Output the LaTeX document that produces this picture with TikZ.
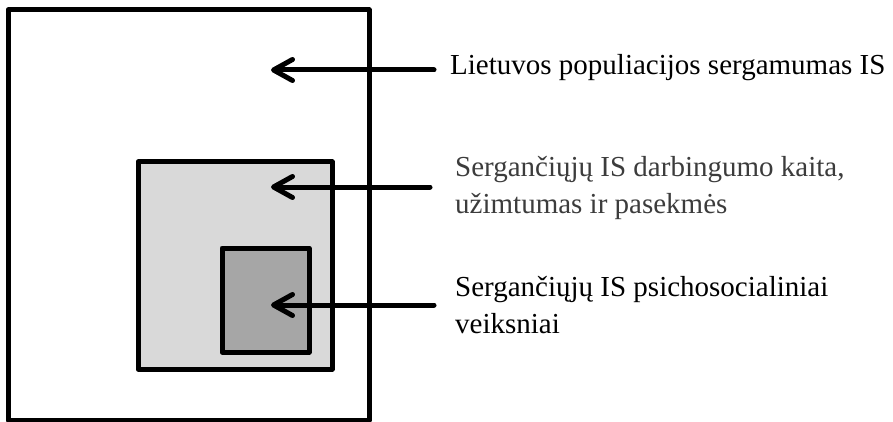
\documentclass[tikz,border=0pt]{standalone}
\usepackage{fontspec}
\setmainfont{Liberation Serif}
\usetikzlibrary{arrows.meta}
\definecolor{midfill}{HTML}{D9D9D9}
\definecolor{innerfill}{HTML}{A6A6A6}
\definecolor{softtext}{HTML}{3C3C3C}
\tikzset{
  frame/.style={draw=black, line width=5pt, line join=round},
  pointer/.style={draw=black, line width=5pt, line cap=round,
    -{Straight Barb[length=19pt, width=21pt, line cap=round, line join=round]}},
  caption/.style={inner sep=0pt, anchor=base west, align=left,
    font=\fontsize{29}{37}\selectfont}
}
\begin{document}
\begin{tikzpicture}[x=1pt, y=-1pt]
  \useasboundingbox (0,0) rectangle (893,422);
  % nested areas
  \draw[frame] (8,10) rectangle (369,420);
  \draw[frame, fill=midfill] (138,162) rectangle (332,369);
  \draw[frame, fill=innerfill] (222,248) rectangle (309,352);
  % captions (a multi-line caption sits on the baseline of its last line)
  \node[caption] (lpop) at (450,75) {Lietuvos populiacijos sergamumas IS};
  \node[caption, text=softtext] (ldarb) at (455,213) {Sergančiųjų IS darbingumo kaita,\\užimtumas ir pasekmės};
  \node[caption] (lpsi) at (455,333) {Sergančiųjų IS psichosocialiniai\\veiksniai};
  % arrow ends
  \coordinate (t1) at (434,70);  \coordinate (h1) at (271,70);
  \coordinate (t2) at (430,187); \coordinate (h2) at (271,187);
  \coordinate (t3) at (434,305); \coordinate (h3) at (271,305);
  \draw[pointer] (t1) -- (h1);
  \draw[pointer] (t2) -- (h2);
  \draw[pointer] (t3) -- (h3);
\end{tikzpicture}
\end{document}
